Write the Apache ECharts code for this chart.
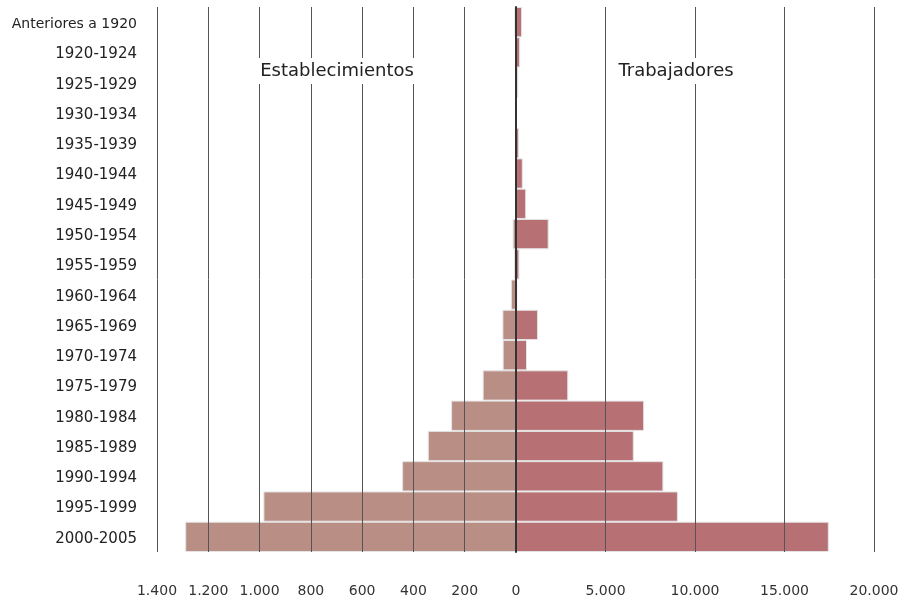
<!DOCTYPE html>
<html>
<head>
    <meta charset="utf-8">
    <title>Establecimientos y trabajadores</title>
    <script src="https://cdn.jsdelivr.net/npm/echarts@6/dist/echarts.min.js"></script>
    <style>
        body { margin: 0; background: #fff; }
    </style>
</head>
<body>
    <div id="main" style="width: 910px;height:601px;"></div>
    <script type="text/javascript">
        // periodos (de arriba hacia abajo)
        var periodos = ['Anteriores a 1920', '1920-1924', '1925-1929', '1930-1934', '1935-1939',
            '1940-1944', '1945-1949', '1950-1954', '1955-1959', '1960-1964', '1965-1969',
            '1970-1974', '1975-1979', '1980-1984', '1985-1989', '1990-1994', '1995-1999', '2000-2005'];
        var establecimientos = [6, 2, 1, 0, 1, 2, 3, 13, 8, 20, 53, 52, 130, 253, 344, 444, 985, 1290];
        var trabajadores = [340, 230, 120, 0, 160, 380, 570, 1825, 190, 70, 1230, 615, 2920, 7160, 6580, 8235, 9045, 17475];

        var fuente = 'DejaVu Sans';

        function miles(v) {
            return String(v).replace(/\B(?=(\d{3})+(?!\d))/g, '.');
        }

        var myChart = echarts.init(document.getElementById('main'));

        var option = {
            animation: false,
            textStyle: { fontFamily: fuente },
            title: [{
                text: 'Establecimientos',
                left: 334, top: 58, textAlign: 'center',
                backgroundColor: '#fff', padding: [4, 3],
                textStyle: { fontFamily: fuente, fontSize: 18, fontWeight: 'normal', color: '#222' }
            }, {
                text: 'Trabajadores',
                left: 673, top: 58, textAlign: 'center',
                backgroundColor: '#fff', padding: [4, 3],
                textStyle: { fontFamily: fuente, fontSize: 18, fontWeight: 'normal', color: '#222' }
            }],
            grid: [
                { left: 157, right: 394, top: 7, bottom: 49 },
                { left: 516, right: 36, top: 7, bottom: 49 }
            ],
            xAxis: [{
                gridIndex: 0, type: 'value', inverse: true,
                min: 0, max: 1400, interval: 200, z: 5,
                axisLine: { show: false }, axisTick: { show: false },
                splitLine: { lineStyle: { color: '#555', width: 1 } },
                axisLabel: { margin: 32, fontSize: 14, color: '#333', formatter: miles }
            }, {
                gridIndex: 1, type: 'value',
                min: 0, max: 20000, interval: 5000, z: 5,
                axisLine: { show: false }, axisTick: { show: false },
                splitLine: { lineStyle: { color: '#555', width: 1 } },
                axisLabel: { margin: 32, fontSize: 14, color: '#333', showMinLabel: false, formatter: miles }
            }],
            yAxis: [{
                gridIndex: 0, type: 'category', data: periodos, inverse: true,
                position: 'left',
                axisLine: { show: false }, axisTick: { show: false },
                axisLabel: {
                    margin: 20, fontSize: 15, color: '#222', padding: [4, 0, 0, 0],
                    formatter: function (v) {
                        return v === 'Anteriores a 1920' ? '{s|' + v + '}' : v;
                    },
                    rich: { s: { fontSize: 14, color: '#222' } }
                }
            }, {
                gridIndex: 1, type: 'category', data: periodos, inverse: true,
                position: 'left', z: 5,
                axisLine: { show: true, lineStyle: { color: '#333', width: 2 } },
                axisTick: { show: false }, axisLabel: { show: false }
            }],
            series: [{
                name: 'Establecimientos', type: 'bar',
                xAxisIndex: 0, yAxisIndex: 0,
                data: establecimientos,
                barCategoryGap: 0,
                itemStyle: { color: '#b98e84', borderColor: '#e4e4e4', borderWidth: 1 }
            }, {
                name: 'Trabajadores', type: 'bar',
                xAxisIndex: 1, yAxisIndex: 1,
                data: trabajadores,
                barCategoryGap: 0,
                itemStyle: { color: '#b77074', borderColor: '#e4e4e4', borderWidth: 1 }
            }]
        };

        myChart.setOption(option);
    </script>
</body>
</html>
